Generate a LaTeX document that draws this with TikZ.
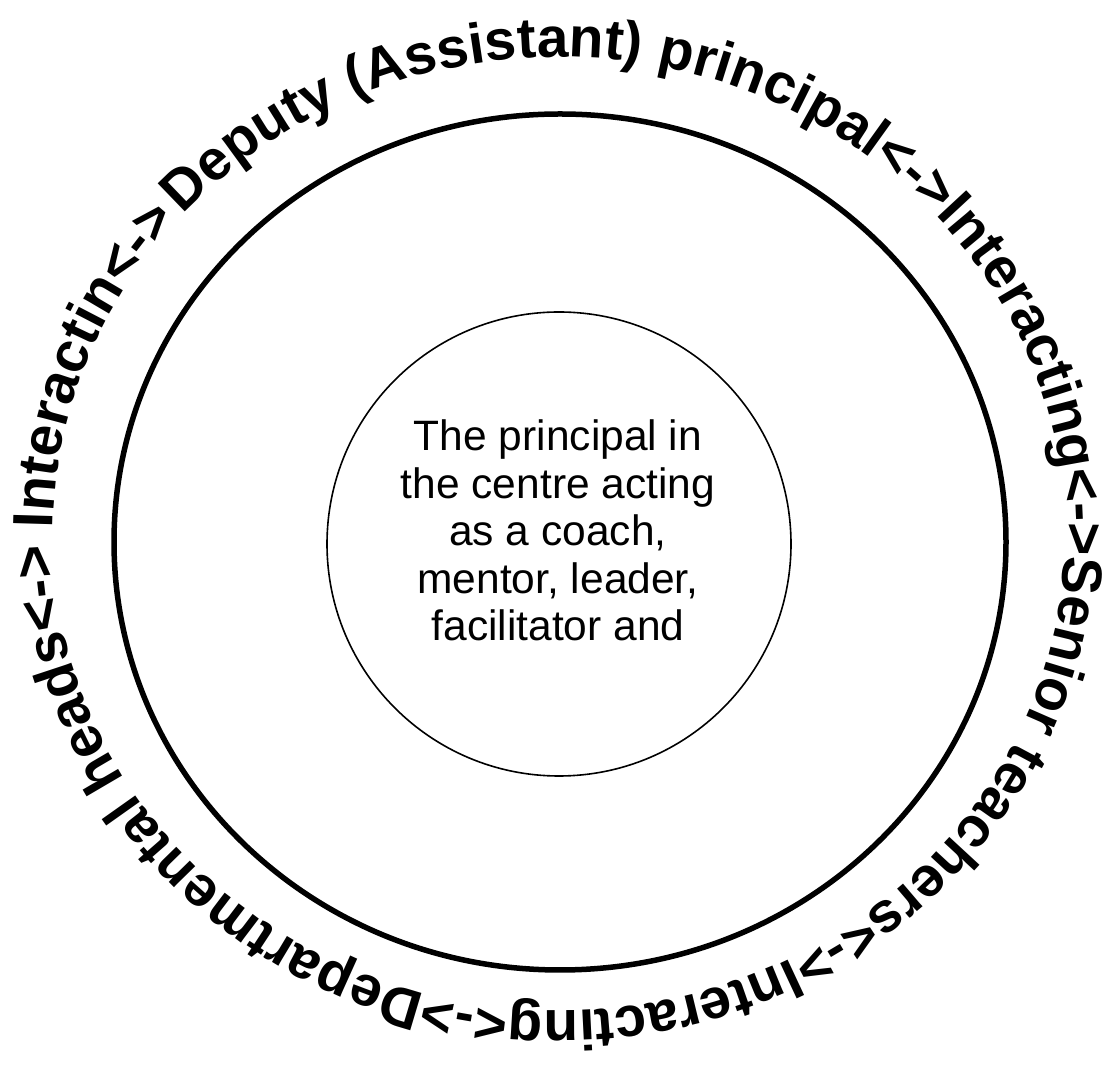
\documentclass[tikz,border=0pt]{standalone}
\usepackage{fontspec}
\setmainfont{Liberation Sans}
\usetikzlibrary{decorations.text}
\begin{document}
\begin{tikzpicture}[x=1pt,y=1pt,
  ring/.style={line width=5.5pt},
  core/.style={line width=1.6pt},
  ringtext/.style={decorate, decoration={text along path, text align=left,
    text={|\fontsize{56.7}{60}\selectfont\bfseries|#1}}},
  coretext/.style={font=\fontsize{42.5}{47.5}\selectfont, align=center, inner sep=0pt}
]
\useasboundingbox (0,0) rectangle (1108,1073);
\fill[white] (0,0) rectangle (1108,1073);

% centres of the ring, the core and the text track
\coordinate (ringc) at (560,531);
\coordinate (corec) at (559,529);
\coordinate (trackc) at (559,539);

% outer ring and inner circle
\draw[ring] (ringc) ellipse [x radius=446, y radius=428];
\draw[core] (corec) circle [radius=232];

% label inside the inner circle (base anchor sits on its last line)
\node[coretext, anchor=base] (role) at (558,432)
  {The principal in\\the centre acting\\as a coach,\\mentor, leader,\\facilitator and};

% text running clockwise round the ring
\path[ringtext={Deputy (Assistant) principal<->Interacting<->Senior teachers<->Interacting<->Departmental heads<-> Interactin<->}]
  (trackc) ++(138:506 and 477) arc [start angle=138, end angle=-225, x radius=506, y radius=477];
\end{tikzpicture}
\end{document}
